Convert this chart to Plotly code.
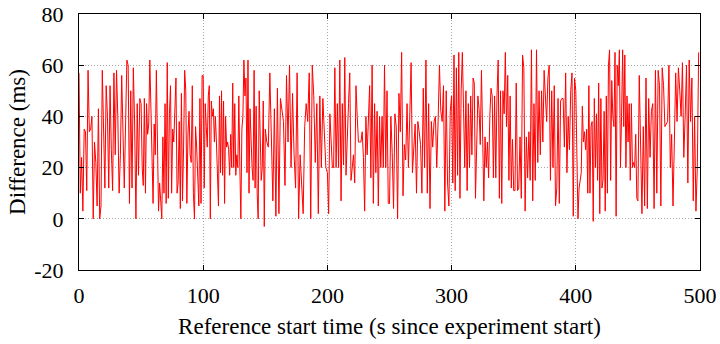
import numpy as np
import plotly.graph_objects as go

# Difference (ms) values, grouped by 50-second window
seg_0_50 = [57, 10, 24, 3, 35, 34, 11, 58, 34, 35, 40, 0, 30, 22, 5, 43, 0, 5, 58, 30, 12, 52, 40, 12,
            52, 27, 11, 57, 25, 58, 40, 10, 25, 56, 33, 12, 37, 62, 60, 6, 50, 12, 59, 37, 0, 45, 17, 47]
seg_50_100 = [45, 20, 13, 47, 10, 45, 33, 37, 62, 40, 32, 6, 37, 25, 58, 20, 3, 14, 8, 0, 32, 10, 45, 6,
              61, 8, 41, 52, 10, 35, 30, 48, 55, 10, 14, 38, 4, 49, 7, 28, 58, 50, 6, 33, 42, 25, 22, 52,
              10, 0, 36, 28, 17, 5, 47, 6, 56]
seg_100_150 = [56, 12, 45, 36, 28, 48, 52, 0, 46, 40, 43, 30, 40, 30, 20, 5, 48, 18, 50, 17, 46, 6, 40,
               28, 30, 27, 17, 33, 20, 53, 20, 45, 17, 25, 20, 48, 20, 0, 35, 40, 62, 48, 55, 18, 62, 10,
               43, 30, 20, 15, 58, 12, 44, 10, 0, 50, 25, 15, 20, 46, -3]
seg_150_200 = [35, 30, 28, 57, 28, 7, 43, 1, 51, 2, 47, 42, 38, 13, 56, 30, 60, 20, 49, 25, 12, 57, 0,
               25, 10, 2, 36, 45, 38, 57, 0, 60, 48, 22, 45, 2, 48, 20, 47, 30, 20]
seg_200_250 = [18, 2, 41, 30, 20, 20, 59, 20, 45, 20, 62, 7, 45, 21, 63, 17, 35, 45, 57, 15, 20, 25, 14,
               52, 40, 30, 30, 30, 34, 24, 3, 40, 25, 44, 52, 16, 60, 6, 45, 18, 42, 5, 40, 20, 40, 20,
               60, 20, 50, 6]
seg_250_300 = [6, 40, 26, 4, 41, 36, 0, 49, 34, 65, 9, 29, 23, 45, 20, 40, 61, 18, 30, 37, 10, 38, 34,
               29, 10, 51, 20, 62, 10, 45, 4, 38, 28, 38, 40, 20, 38, 60, 42, 38, 52, 3, 50, 14, 5, 42]
seg_300_350 = [48, 14, 64, 11, 59, 17, 65, 8, 50, 65, 43, 20, 50, 11, 45, 20, 48, 25, 55, 53, 8, 30, 48,
               43, 29, 58, 37, 7, 32, 20, 30, 16, 40, 51, 48, 16, 48, 16, 48, 62, 8, 50, 6, 50, 41, 65,
               36, 56, 15, 48, 12, 31]
seg_350_400 = [11, 11, 53, 11, 12, 32, 8, 64, 59, 3, 32, 16, 34, 15, 66, 7, 45, 15, 66, 22, 50, 25, 50,
               30, 58, 50, 38, 55, 60, 15, 50, 20, 52, 5, 12, 47, 6, 46, 47, 47, 28, 57, 18, 40, 27, 50,
               57, 1, 55]
seg_400_450 = [50, 14, 0, 12, 15, 18, 44, 30, 34, 27, 35, 10, 52, 10, 36, 38, -1, 47, 20, 41, 15, 53, 2,
               47, 12, 15, 42, 3, 48, 10, 60, 66, 15, 54, 40, 36, 65, 1, 60, 52, 66, 20, 40, 66, 36, 64,
               20, 48, 30, 45, 15, 45, 20, 22, 20, 33, 8]
seg_450_500 = [7, 56, 24, 2, 36, 5, 55, 4, 47, 24, 42, 45, 4, 58, 10, 58, 52, 5, 59, 52, 36, 37, 38, 60,
               20, 33, 5, 30, 57, 38, 59, 50, 40, 61, 24, 40, 60, 14, 62, 38, 55, 7, 40, 3, 20, 65]

segments = [seg_0_50, seg_50_100, seg_100_150, seg_150_200, seg_200_250,
            seg_250_300, seg_300_350, seg_350_400, seg_400_450, seg_450_500]
window_starts = [0, 50, 100, 150, 200, 250, 300, 350, 400, 450]

times, diffs = [], []
for start, seg in zip(window_starts, segments):
    n = len(seg)
    times.extend(list(start + np.arange(n) * 50.0 / n))
    diffs.extend(seg)

x_ticks = [0, 100, 200, 300, 400, 500]
x_tick_text = ["0", "100", "200", "300", "400", "500"]
y_ticks = [-20, 0, 20, 40, 60, 80]
y_tick_text = ["-20", "0", "20", "40", "60", "80"]

FONT = "Liberation Serif"

fig = go.Figure()
fig.add_trace(go.Scatter(x=times, y=diffs, mode="lines",
                         line=dict(color="#ff0000", width=1), showlegend=False))

axis_common = dict(
    showline=True, linecolor="black", linewidth=1, mirror="allticks",
    ticks="inside", ticklen=5, tickcolor="black", tickwidth=1,
    showgrid=True, gridcolor="#a8a8a8", griddash="1px,2px", gridwidth=1,
    zeroline=False, automargin=False,
    tickfont=dict(family=FONT, size=22, color="black"),
)

fig.update_xaxes(range=[0, 500], tickvals=x_ticks, ticktext=x_tick_text, ticklabelstandoff=6,
                 title=dict(text="Reference start time (s since experiment start)",
                            font=dict(family=FONT, size=23, color="black"), standoff=10),
                 **axis_common)
fig.update_yaxes(range=[-20, 80], tickvals=y_ticks, ticktext=y_tick_text, ticklabelstandoff=10,
                 title=dict(text="Difference (ms)",
                            font=dict(family=FONT, size=23, color="black"), standoff=2),
                 **axis_common)

fig.update_layout(
    width=720, height=344,
    font=dict(family=FONT, color="black"),
    margin=dict(l=79, r=20, t=14, b=74, pad=0),
    plot_bgcolor="white", paper_bgcolor="white",
)

fig.write_html("out.html")
